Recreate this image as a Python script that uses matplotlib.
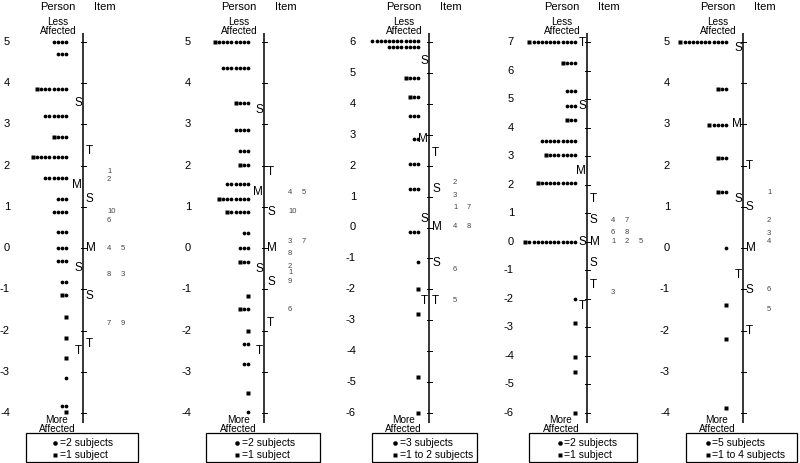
import matplotlib
matplotlib.use('Agg')
import matplotlib.pyplot as plt
from matplotlib.patches import Rectangle

plt.rcParams['font.family'] = ['Liberation Sans', 'DejaVu Sans']

W, H = 800, 463
TOP_PX, BOT_PX = 42, 413

# ---------------- Panel 1 ----------------
p1_range = (-4, 5)
p1_levels = [5.0, 4.7, 3.86, 3.2, 2.7, 2.2, 1.7, 1.19, 0.87, 0.38, 0.0, -0.32, -0.82, -1.14,
             -1.67, -2.18, -2.67, -3.16, -3.84, -3.98]
p1_circles = [4, 3, 7, 6, 3, 8, 6, 3, 4, 3, 3, 3, 2, 1, 0, 0, 0, 1, 2, 0]
p1_squares = [0, 0, 1, 0, 1, 1, 0, 0, 0, 0, 0, 0, 0, 1, 1, 1, 1, 0, 0, 1]
p1_pstat_lab = ['S', 'M', 'S', 'T']
p1_pstat_val = [3.52, 1.53, -0.49, -2.5]
p1_istat_lab = ['T', 'S', 'M', 'S', 'T']
p1_istat_val = [2.36, 1.19, 0.0, -1.16, -2.33]
p1_items = ['1', '2', '10', '6', '4', '5', '8', '3', '7', '9']
p1_item_val = [1.87, 1.67, 0.9, 0.68, 0.0, 0.0, -0.63, -0.63, -1.82, -1.82]
p1_legend = ['=2 subjects', '=1 subject']

# ---------------- Panel 2 ----------------
p2_range = (-4, 5)
p2_levels = [5.0, 4.37, 3.53, 2.86, 2.35, 2.02, 1.55, 1.19, 0.87, 0.36, 0.0, -0.34, -1.16,
             -1.48, -2.0, -2.33, -2.82, -3.52, -3.98]
p2_circles = [8, 7, 3, 4, 3, 2, 6, 7, 5, 2, 3, 2, 0, 2, 0, 2, 2, 0, 1]
p2_squares = [1, 0, 1, 0, 0, 1, 0, 1, 1, 0, 0, 1, 1, 1, 1, 0, 0, 1, 0]
p2_pstat_lab = ['S', 'M', 'S', 'T']
p2_pstat_val = [3.35, 1.36, -0.51, -2.5]
p2_istat_lab = ['T', 'S', 'M', 'S', 'T']
p2_istat_val = [1.84, 0.87, 0.0, -0.82, -1.82]
p2_items = ['4', '5', '10', '3', '7', '8', '2', '1', '9', '6']
p2_item_val = [1.36, 1.36, 0.88, 0.17, 0.17, -0.14, -0.44, -0.6, -0.8, -1.48]
p2_legend = ['=2 subjects', '=1 subject']

# ---------------- Panel 3 ----------------
p3_range = (-6, 6)
p3_levels = [6.03, 5.83, 4.82, 4.22, 3.62, 2.85, 2.07, 1.23, -0.13, -1.13, -2.0, -2.8, -4.82, -5.99]
p3_circles = [12, 8, 3, 2, 3, 2, 3, 3, 3, 1, 0, 0, 0, 0]
p3_squares = [0, 0, 1, 1, 0, 0, 0, 0, 0, 0, 1, 1, 1, 1]
p3_pstat_lab = ['S', 'M', 'S', 'T']
p3_pstat_val = [5.4, 2.85, 0.26, -2.37]
p3_istat_lab = ['T', 'S', 'M', 'S', 'T']
p3_istat_val = [2.42, 1.23, 0.0, -1.15, -2.37]
p3_items = ['2', '3', '1', '7', '4', '8', '6', '5']
p3_item_val = [1.45, 1.04, 0.64, 0.64, 0.04, 0.04, -1.36, -2.37]
p3_legend = ['=3 subjects', '=1 to 2 subjects']

# ---------------- Panel 4 ----------------
p4_range = (-6, 7)
p4_levels = [7.0, 6.26, 5.27, 4.77, 4.25, 3.53, 3.04, 2.05, 0.0, -2.0, -2.84, -4.04, -4.55, -6.0]
p4_circles = [11, 3, 3, 3, 2, 9, 7, 9, 12, 1, 0, 0, 0, 0]
p4_squares = [1, 1, 0, 0, 1, 0, 1, 1, 1, 0, 1, 1, 1, 1]
p4_pstat_lab = ['T', 'S', 'M', 'S', 'T']
p4_pstat_val = [6.96, 4.76, 2.48, 0.0, -2.25]
p4_istat_lab = ['T', 'S', 'M', 'S', 'T']
p4_istat_val = [1.5, 0.76, 0.0, -0.74, -1.5]
p4_items = ['4', '7', '6', '8', '1', '2', '5', '3']
p4_item_val = [0.76, 0.76, 0.31, 0.31, 0.0, 0.0, 0.0, -1.77]
p4_legend = ['=2 subjects', '=1 subject']

# ---------------- Panel 5 ----------------
p5_range = (-4, 5)
p5_levels = [5.0, 3.85, 2.99, 2.18, 1.35, 0.0, -1.37, -2.2, -3.87]
p5_circles = [11, 2, 4, 2, 2, 1, 0, 0, 0]
p5_squares = [1, 1, 1, 1, 1, 0, 1, 1, 1]
p5_pstat_lab = ['S', 'M', 'S', 'T']
p5_pstat_val = [4.85, 3.0, 1.19, -0.65]
p5_istat_lab = ['T', 'S', 'M', 'S', 'T']
p5_istat_val = [2.0, 1.0, 0.0, -1.02, -2.0]
p5_items = ['1', '2', '3', '4', '6', '5']
p5_item_val = [1.34, 0.66, 0.36, 0.15, -1.0, -1.5]
p5_legend = ['=5 subjects', '=1 to 4 subjects']

# layout (pixels): panel left, axis x, dot right end offset, legend box left/right, legend marker offset
panels = [
    dict(left=0, axis=83, dot_end=-17, box=(26, 138), leg_dx=-28,
         rng=p1_range, lev=p1_levels, c=p1_circles, s=p1_squares, pl=p1_pstat_lab, pv=p1_pstat_val,
         il=p1_istat_lab, iv=p1_istat_val, items=p1_items, itv=p1_item_val, leg=p1_legend),
    dict(left=160, axis=264, dot_end=-16, box=(206, 320), leg_dx=-27,
         rng=p2_range, lev=p2_levels, c=p2_circles, s=p2_squares, pl=p2_pstat_lab, pv=p2_pstat_val,
         il=p2_istat_lab, iv=p2_istat_val, items=p2_items, itv=p2_item_val, leg=p2_legend),
    dict(left=320, axis=429, dot_end=-11, box=(372, 477), leg_dx=-34,
         rng=p3_range, lev=p3_levels, c=p3_circles, s=p3_squares, pl=p3_pstat_lab, pv=p3_pstat_val,
         il=p3_istat_lab, iv=p3_istat_val, items=p3_items, itv=p3_item_val, leg=p3_legend),
    dict(left=480, axis=587, dot_end=-12, box=(529, 637), leg_dx=-27,
         rng=p4_range, lev=p4_levels, c=p4_circles, s=p4_squares, pl=p4_pstat_lab, pv=p4_pstat_val,
         il=p4_istat_lab, iv=p4_istat_val, items=p4_items, itv=p4_item_val, leg=p4_legend),
    dict(left=640, axis=743, dot_end=-17, box=(686, 797), leg_dx=-35,
         rng=p5_range, lev=p5_levels, c=p5_circles, s=p5_squares, pl=p5_pstat_lab, pv=p5_pstat_val,
         il=p5_istat_lab, iv=p5_istat_val, items=p5_items, itv=p5_item_val, leg=p5_legend),
]

DOT_STEP = 4.15
fig = plt.figure(figsize=(W / 100, H / 100), dpi=100)
fig.patch.set_facecolor('white')

for p in panels:
    lo, hi = p['rng']
    ax = fig.add_axes([p['left'] / W, 1 - BOT_PX / H, 160 / W, (BOT_PX - TOP_PX) / H])
    ax.set_xlim(p['left'] - p['axis'], p['left'] + 160 - p['axis'])
    ax.set_ylim(lo, hi)
    ax.axis('off')

    def ypix(px, lo=lo, hi=hi):
        return hi - (px - TOP_PX) * (hi - lo) / (BOT_PX - TOP_PX)

    # axis line and ticks
    ax.plot([0, 0], [ypix(33), ypix(423)], color='black', lw=1.1, clip_on=False, solid_capstyle='butt')
    for v in range(lo, hi + 1):
        ax.plot([-2.5, 2.5], [v, v], color='black', lw=0.7, clip_on=False)
        ax.text(-73, v, str(v), ha='right', va='center', fontsize=8)

    # persons
    for v, nc, ns in zip(p['lev'], p['c'], p['s']):
        xc = [p['dot_end'] - k * DOT_STEP for k in range(nc)]
        xs = [p['dot_end'] - (nc + k) * DOT_STEP for k in range(ns)]
        if xc:
            ax.plot(xc, [v] * nc, 'o', ms=2.7, color='black', mec='none', clip_on=False)
        if xs:
            ax.plot(xs, [v] * ns, 's', ms=2.3, color='black', mec='none', clip_on=False)

    # person stats (left) and item stats (right)
    for lab, v in zip(p['pl'], p['pv']):
        ax.text(-0.8, v, lab, ha='right', va='center', fontsize=8.5)
    for lab, v in zip(p['il'], p['iv']):
        ax.text(3, v, lab, ha='left', va='center', fontsize=8.5)

    # items
    placed = []
    for lab, v in zip(p['items'], p['itv']):
        col = sum(1 for u in placed if abs(u - v) < 0.03)
        placed.append(v)
        ax.text(24 + col * 14, v, lab, ha='left', va='center', fontsize=5.5, color='#444444')

    # headers
    ax.text(-25, ypix(9.5), 'Person', ha='center', va='baseline', fontsize=8)
    ax.text(22, ypix(9.5), 'Item', ha='center', va='baseline', fontsize=8)
    ax.text(-25, ypix(25), 'Less', ha='center', va='baseline', fontsize=7.2)
    ax.text(-25, ypix(33.5), 'Affected', ha='center', va='baseline', fontsize=7.2)
    ax.text(-26, ypix(423), 'More', ha='center', va='baseline', fontsize=7.2)
    ax.text(-26, ypix(432), 'Affected', ha='center', va='baseline', fontsize=7.2)

    # legend box
    bl, br = p['box']
    ax.add_patch(Rectangle((bl - p['axis'], ypix(462)), br - bl, ypix(433) - ypix(462),
                           fill=False, edgecolor='black', lw=0.9, clip_on=False))
    ax.plot([p['leg_dx']], [ypix(443)], 'o', ms=3.3, color='black', mec='none', clip_on=False)
    ax.plot([p['leg_dx']], [ypix(455)], 's', ms=2.5, color='black', mec='none', clip_on=False)
    ax.text(p['leg_dx'] + 4.5, ypix(443), p['leg'][0], ha='left', va='center', fontsize=7.5)
    ax.text(p['leg_dx'] + 4.5, ypix(455), p['leg'][1], ha='left', va='center', fontsize=7.5)

fig.savefig('out.png', dpi=100)
